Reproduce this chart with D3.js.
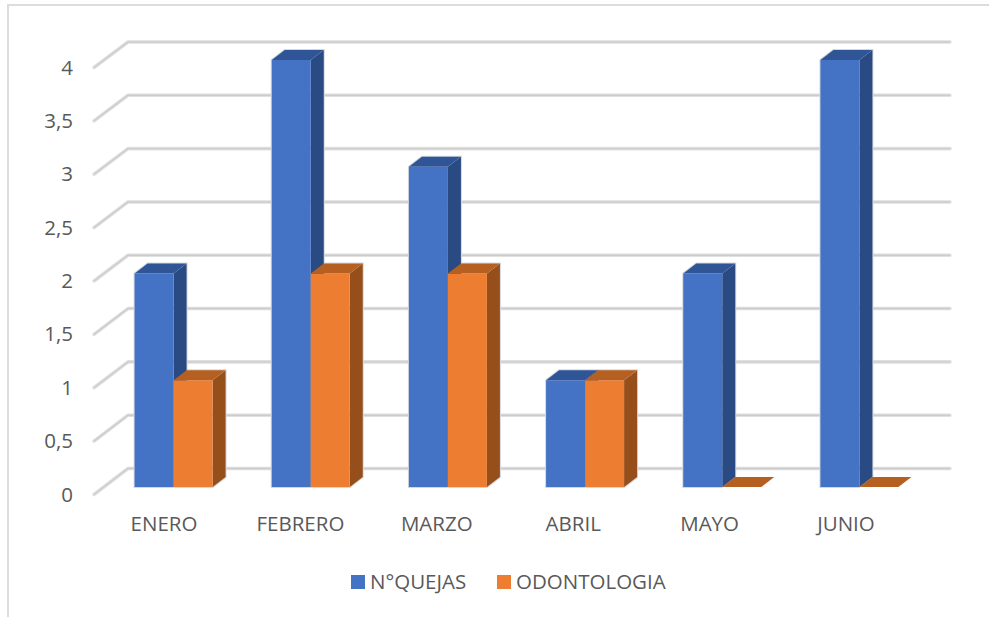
<!DOCTYPE html>
<html>
<head>
<meta charset="utf-8">
<style>
html,body{margin:0;padding:0;background:#fff;}
svg{display:block;}
text{font-family:"Open Sans","Noto Sans",sans-serif;fill:#595959;}
</style>
<script src="https://cdnjs.cloudflare.com/ajax/libs/d3/7.8.5/d3.min.js"></script>
</head>
<body>
<svg id="chart" width="989" height="617"></svg>
<script>
const months=["ENERO","FEBRERO","MARZO","ABRIL","MAYO","JUNIO"];
const quejas=[2,4,3,1,2,4];
const odontologia=[1,2,2,1,0,0];
const yTicks=[0,0.5,1,1.5,2,2.5,3,3.5,4];
const seriesNames=["N°QUEJAS","ODONTOLOGIA"];

const blue={front:"#4472c4",top:"#2f5597",side:"#294a82"};
const orange={front:"#ed7d31",top:"#b55f21",side:"#964f1b"};

const depthX=13,depthY=10;
const svg=d3.select("#chart");

//外框
svg.append("path")
    .attr("d","M8,617V5H989")
    .attr("fill","none").attr("stroke","#dcdcdc").attr("stroke-width",2);

const x=d3.scaleBand().domain(months).range([105,928]).padding(0);
const y=d3.scaleLinear().domain([0,4]).range([487,60]);
const barW=39;

//网格线
const wallX=128,wallRight=950,frontX=94;
const gridY=d3.scaleLinear().domain([0,4]).range([494.5,67.5]);
const wallY=d3.scaleLinear().domain([0,4]).range([468.5,42]);
function gridPath(t){
    return "M"+frontX+","+gridY(t)+"L"+wallX+","+wallY(t)+"H"+wallRight;
}
const grid=svg.append("g");
grid.selectAll("path.out").data(yTicks).join("path")
    .attr("class","out").attr("d",gridPath)
    .attr("fill","none").attr("stroke","#e0e0e0").attr("stroke-width",3.6)
    .attr("stroke-linecap","round").attr("stroke-linejoin","round");
grid.selectAll("path.in").data(yTicks).join("path")
    .attr("class","in").attr("d",gridPath)
    .attr("fill","none").attr("stroke","#cccccc").attr("stroke-width",1.4);

//柱子
function drawHalo(g,x0,val){
    if(val<=0){
        return;
    }
    const top=y(val),base=y(0);
    g.append("path")
        .attr("d","M"+x0+","+base+"V"+top+"l"+depthX+","+(-depthY)+"h"+barW+"V"+(base-depthY)+"l"+(-depthX)+","+depthY+"Z")
        .attr("fill","none").attr("stroke","#d4d8de").attr("stroke-width",2);
}
function drawBar(g,x0,val,col){
    const top=y(val),base=y(0);
    if(val>0){
        g.append("path")
            .attr("d","M"+(x0+barW)+","+top+"l"+depthX+","+(-depthY)+"V"+(base-depthY)+"l"+(-depthX)+","+depthY+"Z")
            .attr("fill",col.side);
        g.append("rect")
            .attr("x",x0).attr("y",top).attr("width",barW).attr("height",base-top)
            .attr("fill",col.front);
    }
    g.append("path")
        .attr("d","M"+x0+","+top+"l"+depthX+","+(-depthY)+"h"+barW+"l"+(-depthX)+","+depthY+"Z")
        .attr("fill",col.top);
}
const bars=svg.append("g");
months.forEach(function(m,i){
    const cx=x(m)+x.bandwidth()/2;
    const g=bars.append("g");
    // 浅色描边先画，避免两根柱子之间出现白缝
    drawHalo(g,cx-barW,quejas[i]);
    drawHalo(g,cx,odontologia[i]);
    drawBar(g,cx-barW,quejas[i],blue);
    drawBar(g,cx,odontologia[i],orange);
});

//坐标轴文字
svg.append("g").selectAll("text").data(yTicks).join("text")
    .attr("x",73).attr("y",function(d){return gridY(d)+7;})
    .attr("text-anchor","end").attr("font-size",20.5)
    .text(function(d){return String(d).replace(".",",");});

const labelX=d3.scalePoint().domain(months).range([164,846]);
svg.append("g").selectAll("text").data(months).join("text")
    .attr("x",function(d){return labelX(d);}).attr("y",531)
    .attr("text-anchor","middle").attr("font-size",20.5)
    .text(function(d){return d;});

//图例
const legendX=[351,497];
const legendCol=[blue.front,orange.front];
seriesNames.forEach(function(name,i){
    svg.append("rect").attr("x",legendX[i]).attr("y",575).attr("width",14).attr("height",14).attr("fill",legendCol[i]);
    svg.append("text").attr("x",legendX[i]+19).attr("y",589).attr("font-size",20.5).text(name);
});
</script>
</body>
</html>
